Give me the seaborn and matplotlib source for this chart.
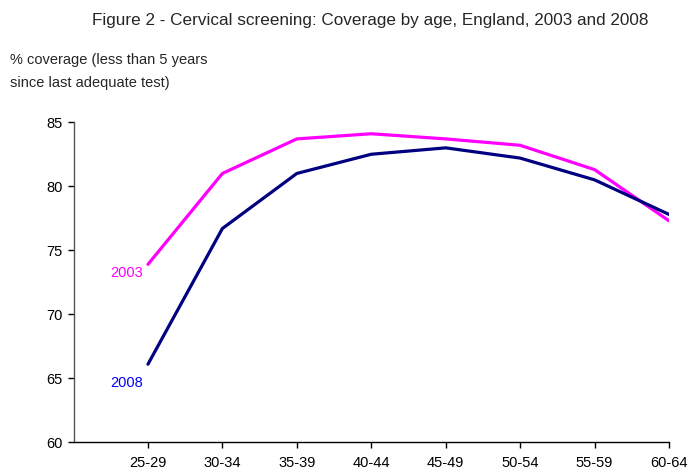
import matplotlib
matplotlib.use("Agg")
import matplotlib.pyplot as plt
import pandas as pd
import seaborn as sns

age_groups = ["25-29", "30-34", "35-39", "40-44", "45-49", "50-54", "55-59", "60-64"]
cov_2003 = [73.9, 81.0, 83.7, 84.1, 83.7, 83.2, 81.3, 77.3]
cov_2008 = [66.1, 76.7, 81.0, 82.5, 83.0, 82.2, 80.5, 77.8]
years = ["2003", "2008"]

sns.set_style("white")
plt.rcParams["font.family"] = ["Liberation Sans", "DejaVu Sans"]

df = pd.DataFrame({
    "pos": list(range(len(age_groups))) * 2,
    "coverage": cov_2003 + cov_2008,
    "year": [years[0]] * len(age_groups) + [years[1]] * len(age_groups),
})

line_colors = {"2003": "#FF00FF", "2008": "#000080"}
label_colors = {"2003": "#FF00FF", "2008": "#0000FF"}

fig = plt.figure(figsize=(6.89, 4.72), dpi=100)
ax = fig.add_axes([0.1067, 0.0629, 0.8643, 0.6781])

sns.lineplot(data=df, x="pos", y="coverage", hue="year", palette=line_colors,
             linewidth=2.3, legend=False, ax=ax)

ax.set_xlim(-1, len(age_groups) - 1)
ax.set_ylim(60, 85)
ax.set_xticks(range(len(age_groups)))
ax.set_xticklabels(age_groups)
ax.set_yticks([60, 65, 70, 75, 80, 85])
ax.set_xlabel("")
ax.set_ylabel("")
ax.tick_params(axis="both", which="both", direction="out", length=4, width=1,
               labelsize=10.5, colors="black", left=True, bottom=True)
ax.tick_params(axis="x", pad=6)
ax.tick_params(axis="y", pad=4)

for side in ["top", "right"]:
    ax.spines[side].set_visible(False)
ax.spines["left"].set_color("#555555")
ax.spines["bottom"].set_color("black")
ax.spines["left"].set_linewidth(1)
ax.spines["bottom"].set_linewidth(1)
ax.grid(False)

# series labels near the first point
offsets = {"2003": (-21, -9), "2008": (-21, -19)}
for yr, vals in zip(years, [cov_2003, cov_2008]):
    ax.annotate(yr, xy=(0, vals[0]), xytext=offsets[yr], textcoords="offset pixels",
                ha="center", va="center", color=label_colors[yr], fontsize=10.5)

fig.text(0.538, 0.957, "Figure 2 - Cervical screening: Coverage by age, England, 2003 and 2008",
         ha="center", va="center", fontsize=12.3)
fig.text(0.0145, 0.849, "% coverage (less than 5 years\nsince last adequate test)",
         ha="left", va="center", fontsize=10.5, linespacing=1.8)

fig.savefig("out.png", dpi=100)
